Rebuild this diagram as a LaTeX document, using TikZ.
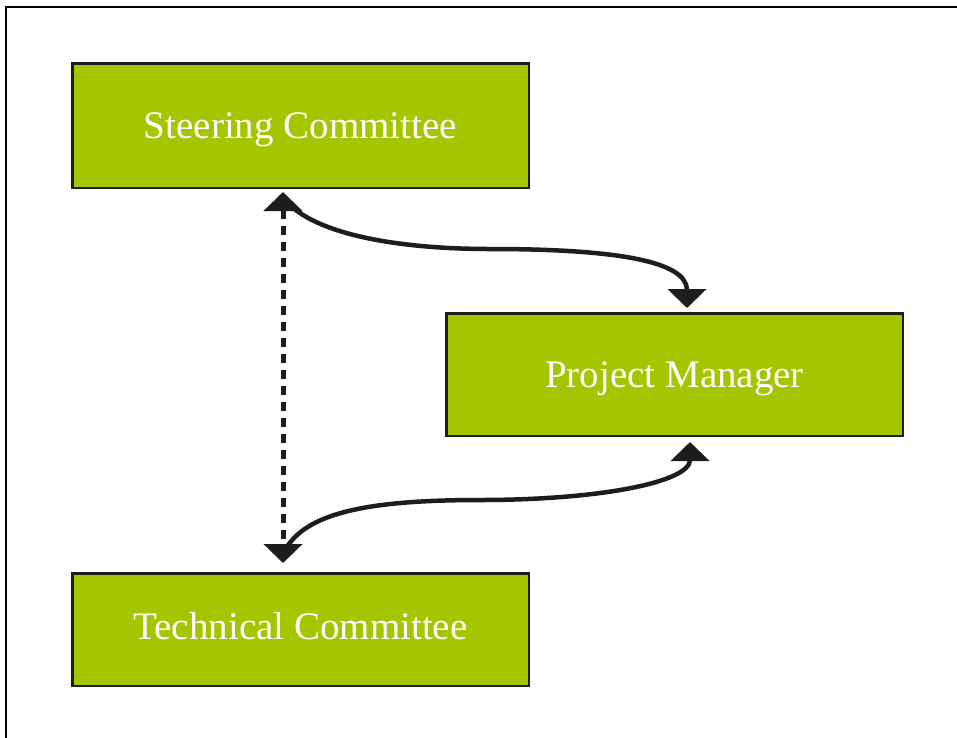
\documentclass[tikz,border=0pt]{standalone}
\usepackage{fontspec}
\setmainfont{Liberation Serif}
\usetikzlibrary{arrows.meta,calc}
\definecolor{boxgreen}{RGB}{166,196,0}
\definecolor{edgedark}{RGB}{30,28,30}
\begin{document}
\begin{tikzpicture}[x=1pt,y=-1pt,
  box/.style={draw=edgedark, line width=2.5pt, fill=boxgreen, minimum width=456.5pt,
    text=white, font=\fontsize{39}{44}\selectfont, inner sep=0pt,
    text height=26pt, text depth=0pt},
  bigtri/.tip={Triangle[width=38pt,length=19pt]},
  conn/.style={draw=edgedark, line width=4.5pt},
  dashconn/.style={conn, line width=5pt, dash pattern=on 9pt off 7pt}]
\useasboundingbox (0,0) rectangle (957,737);
\draw[line width=2.5pt, black] (6,7) rectangle (990,770);
\node[box, minimum height=124.5pt] (sc) at (300.5,125.5) {Steering Committee};
\node[box, minimum height=122.5pt] (pm) at (674.5,374.5) {Project Manager};
\node[box, minimum height=112.5pt] (tc) at (300.5,629.5) {\raisebox{3.5pt}{Technical Committee}};
% dashed two-way connector
\draw[dashconn, bigtri-bigtri] ($(sc.south west)+(212,3)$) -- ($(tc.north west)+(212,-9)$);
% steering committee to project manager
\draw[conn, -bigtri] ($(sc.south west)+(214,11)$) .. controls (315,235) and (400,249) .. (490,249)
   .. controls (620,249) and (687,262) .. ($(pm.north west)+(242,-4)$);
% project manager to technical committee
\draw[conn, bigtri-] ($(pm.south west)+(245,5)$) .. controls (690,482) and (600,500) .. (480,500)
   .. controls (360,500) and (305,515) .. ($(tc.north west)+(214,-22)$);
\end{tikzpicture}
\end{document}
